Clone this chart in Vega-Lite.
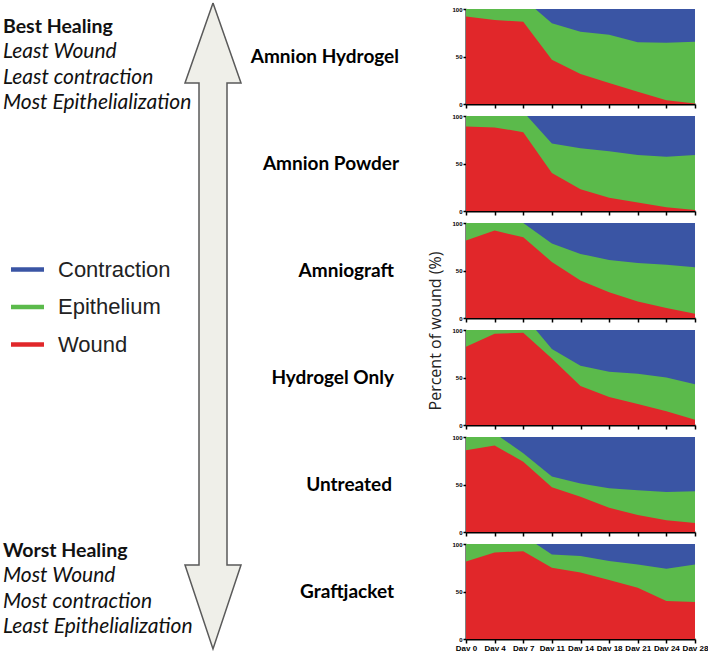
{
  "$schema": "https://vega.github.io/schema/vega-lite/v6.json",
  "padding": 0,
  "background": "white",
  "config": {"view": {"stroke": null}},
  "datasets": {
    "arrow": [
      {"i": 0, "x": 213, "y": 0}, {"i": 1, "x": 241, "y": 80}, {"i": 2, "x": 227, "y": 80},
      {"i": 3, "x": 227, "y": 562}, {"i": 4, "x": 241, "y": 562}, {"i": 5, "x": 213, "y": 646},
      {"i": 6, "x": 185, "y": 562}, {"i": 7, "x": 199, "y": 562}, {"i": 8, "x": 199, "y": 80},
      {"i": 9, "x": 185, "y": 80}, {"i": 10, "x": 213, "y": 0}
    ],
    "healing": [
      {"p": "Amnion Hydrogel", "d": "Day 0", "total": 100, "top": 100, "wound": 92},
      {"p": "Amnion Hydrogel", "d": "Day 4", "total": 100, "top": 100, "wound": 88.5},
      {"p": "Amnion Hydrogel", "d": "Day 7", "total": 100, "top": 111, "wound": 86.5},
      {"p": "Amnion Hydrogel", "d": "Day 11", "total": 100, "top": 85, "wound": 46.5},
      {"p": "Amnion Hydrogel", "d": "Day 14", "total": 100, "top": 76, "wound": 31.5},
      {"p": "Amnion Hydrogel", "d": "Day 18", "total": 100, "top": 73, "wound": 22},
      {"p": "Amnion Hydrogel", "d": "Day 21", "total": 100, "top": 65, "wound": 13},
      {"p": "Amnion Hydrogel", "d": "Day 24", "total": 100, "top": 64.5, "wound": 4},
      {"p": "Amnion Hydrogel", "d": "Day 28", "total": 100, "top": 65.5, "wound": 0.5},
      {"p": "Amnion Powder", "d": "Day 0", "total": 100, "top": 100, "wound": 89},
      {"p": "Amnion Powder", "d": "Day 4", "total": 100, "top": 100, "wound": 88},
      {"p": "Amnion Powder", "d": "Day 7", "total": 100, "top": 104.5, "wound": 83},
      {"p": "Amnion Powder", "d": "Day 11", "total": 100, "top": 71, "wound": 40},
      {"p": "Amnion Powder", "d": "Day 14", "total": 100, "top": 66, "wound": 23},
      {"p": "Amnion Powder", "d": "Day 18", "total": 100, "top": 63, "wound": 14},
      {"p": "Amnion Powder", "d": "Day 21", "total": 100, "top": 59, "wound": 9},
      {"p": "Amnion Powder", "d": "Day 24", "total": 100, "top": 57, "wound": 4},
      {"p": "Amnion Powder", "d": "Day 28", "total": 100, "top": 59, "wound": 1},
      {"p": "Amniograft", "d": "Day 0", "total": 100, "top": 100, "wound": 81.5},
      {"p": "Amniograft", "d": "Day 4", "total": 100, "top": 100, "wound": 92},
      {"p": "Amniograft", "d": "Day 7", "total": 100, "top": 100, "wound": 85},
      {"p": "Amniograft", "d": "Day 11", "total": 100, "top": 78.5, "wound": 59},
      {"p": "Amniograft", "d": "Day 14", "total": 100, "top": 67.5, "wound": 39.5},
      {"p": "Amniograft", "d": "Day 18", "total": 100, "top": 61, "wound": 27},
      {"p": "Amniograft", "d": "Day 21", "total": 100, "top": 58, "wound": 17.5},
      {"p": "Amniograft", "d": "Day 24", "total": 100, "top": 56, "wound": 10.5},
      {"p": "Amniograft", "d": "Day 28", "total": 100, "top": 53.5, "wound": 4.5},
      {"p": "Hydrogel Only", "d": "Day 0", "total": 100, "top": 100, "wound": 82.5},
      {"p": "Hydrogel Only", "d": "Day 4", "total": 100, "top": 100, "wound": 96},
      {"p": "Hydrogel Only", "d": "Day 7", "total": 100, "top": 116, "wound": 97},
      {"p": "Hydrogel Only", "d": "Day 11", "total": 100, "top": 80, "wound": 70},
      {"p": "Hydrogel Only", "d": "Day 14", "total": 100, "top": 62.5, "wound": 41},
      {"p": "Hydrogel Only", "d": "Day 18", "total": 100, "top": 56, "wound": 29.5},
      {"p": "Hydrogel Only", "d": "Day 21", "total": 100, "top": 54, "wound": 22},
      {"p": "Hydrogel Only", "d": "Day 24", "total": 100, "top": 50, "wound": 14.5},
      {"p": "Hydrogel Only", "d": "Day 28", "total": 100, "top": 43, "wound": 5.5},
      {"p": "Untreated", "d": "Day 0", "total": 100, "top": 100, "wound": 86},
      {"p": "Untreated", "d": "Day 4", "total": 100, "top": 104, "wound": 91},
      {"p": "Untreated", "d": "Day 7", "total": 100, "top": 83, "wound": 74},
      {"p": "Untreated", "d": "Day 11", "total": 100, "top": 58.5, "wound": 47},
      {"p": "Untreated", "d": "Day 14", "total": 100, "top": 51, "wound": 37},
      {"p": "Untreated", "d": "Day 18", "total": 100, "top": 46, "wound": 25.5},
      {"p": "Untreated", "d": "Day 21", "total": 100, "top": 44, "wound": 18},
      {"p": "Untreated", "d": "Day 24", "total": 100, "top": 42, "wound": 12.5},
      {"p": "Untreated", "d": "Day 28", "total": 100, "top": 43, "wound": 9.5},
      {"p": "Graftjacket", "d": "Day 0", "total": 100, "top": 100, "wound": 81.5},
      {"p": "Graftjacket", "d": "Day 4", "total": 100, "top": 100, "wound": 91},
      {"p": "Graftjacket", "d": "Day 7", "total": 100, "top": 109, "wound": 92.5},
      {"p": "Graftjacket", "d": "Day 11", "total": 100, "top": 89, "wound": 75},
      {"p": "Graftjacket", "d": "Day 14", "total": 100, "top": 87.5, "wound": 70},
      {"p": "Graftjacket", "d": "Day 18", "total": 100, "top": 82, "wound": 62},
      {"p": "Graftjacket", "d": "Day 21", "total": 100, "top": 78.5, "wound": 54},
      {"p": "Graftjacket", "d": "Day 24", "total": 100, "top": 74, "wound": 40},
      {"p": "Graftjacket", "d": "Day 28", "total": 100, "top": 78.5, "wound": 39}
    ]
  },
  "bounds": "flush",
  "spacing": 26,
  "hconcat": [
    {
      "width": 440,
      "height": 630,
      "encoding": {
        "x": {"type": "quantitative", "scale": {"domain": [0, 440], "nice": false, "zero": false}, "axis": null},
        "y": {"type": "quantitative", "scale": {"domain": [6, 636], "nice": false, "zero": false, "reverse": true}, "axis": null}
      },
      "layer": [
        {
          "data": {"name": "arrow"},
          "mark": {"type": "line", "fill": "#efefe9", "stroke": "#5a5a5a", "strokeWidth": 1.5, "strokeJoin": "miter", "interpolate": "linear"},
          "encoding": {
            "x": {"field": "x", "type": "quantitative", "scale": {"domain": [0, 440], "nice": false, "zero": false}, "axis": null},
            "y": {"field": "y", "type": "quantitative", "scale": {"domain": [6, 636], "nice": false, "zero": false, "reverse": true}, "axis": null},
            "order": {"field": "i", "type": "quantitative"}
          }
        },
        {
          "data": {"values": [{"t": "Best Healing"}]},
          "mark": {"type": "text", "align": "left", "baseline": "alphabetic", "font": "Lato", "fontSize": 19.5, "fontWeight": "bold", "color": "#111"},
          "encoding": {"x": {"datum": 3}, "y": {"datum": 29.5}, "text": {"field": "t"}}
        },
        {
          "data": {"values": [{"t": ["Least Wound", "Least contraction", "Most Epithelialization"]}]},
          "mark": {"type": "text", "align": "left", "baseline": "alphabetic", "font": "Lato", "fontSize": 21, "fontStyle": "italic", "lineHeight": 25.5, "color": "#111"},
          "encoding": {"x": {"datum": 3}, "y": {"datum": 55}, "text": {"field": "t"}}
        },
        {
          "data": {"values": [{"t": "Worst Healing"}]},
          "mark": {"type": "text", "align": "left", "baseline": "alphabetic", "font": "Lato", "fontSize": 19.5, "fontWeight": "bold", "color": "#111"},
          "encoding": {"x": {"datum": 3}, "y": {"datum": 554}, "text": {"field": "t"}}
        },
        {
          "data": {"values": [{"t": ["Most Wound", "Most contraction", "Least Epithelialization"]}]},
          "mark": {"type": "text", "align": "left", "baseline": "alphabetic", "font": "Lato", "fontSize": 21, "fontStyle": "italic", "lineHeight": 25.5, "color": "#111"},
          "encoding": {"x": {"datum": 3}, "y": {"datum": 579}, "text": {"field": "t"}}
        },
        {
          "data": {"values": [{"t": "Amnion Hydrogel"}]},
          "mark": {"type": "text", "align": "right", "baseline": "middle", "font": "Lato", "fontSize": 19, "fontWeight": "bold", "color": "#000"},
          "encoding": {"x": {"datum": 399}, "y": {"datum": 53.5}, "text": {"field": "t"}}
        },
        {
          "data": {"values": [{"t": "Amnion Powder"}]},
          "mark": {"type": "text", "align": "right", "baseline": "middle", "font": "Lato", "fontSize": 19, "fontWeight": "bold", "color": "#000"},
          "encoding": {"x": {"datum": 399}, "y": {"datum": 160.5}, "text": {"field": "t"}}
        },
        {
          "data": {"values": [{"t": "Amniograft"}]},
          "mark": {"type": "text", "align": "right", "baseline": "middle", "font": "Lato", "fontSize": 19, "fontWeight": "bold", "color": "#000"},
          "encoding": {"x": {"datum": 394}, "y": {"datum": 267.5}, "text": {"field": "t"}}
        },
        {
          "data": {"values": [{"t": "Hydrogel Only"}]},
          "mark": {"type": "text", "align": "right", "baseline": "middle", "font": "Lato", "fontSize": 19, "fontWeight": "bold", "color": "#000"},
          "encoding": {"x": {"datum": 394}, "y": {"datum": 374.5}, "text": {"field": "t"}}
        },
        {
          "data": {"values": [{"t": "Untreated"}]},
          "mark": {"type": "text", "align": "right", "baseline": "middle", "font": "Lato", "fontSize": 19, "fontWeight": "bold", "color": "#000"},
          "encoding": {"x": {"datum": 392}, "y": {"datum": 481.5}, "text": {"field": "t"}}
        },
        {
          "data": {"values": [{"t": "Graftjacket"}]},
          "mark": {"type": "text", "align": "right", "baseline": "middle", "font": "Lato", "fontSize": 19, "fontWeight": "bold", "color": "#000"},
          "encoding": {"x": {"datum": 394}, "y": {"datum": 588.5}, "text": {"field": "t"}}
        },
        {
          "data": {"values": [{"t": "Percent of wound (%)"}]},
          "mark": {"type": "text", "align": "center", "baseline": "middle", "angle": 270, "font": "Open Sans", "fontSize": 16, "color": "#222"},
          "encoding": {"x": {"datum": 436}, "y": {"datum": 328}, "text": {"field": "t"}}
        }
      ]
    },
    {
      "data": {"name": "healing"},
      "bounds": "flush",
      "spacing": 12,
      "vconcat": [
        {
          "width": 229, "height": 95,
          "transform": [{"filter": "datum.p === 'Amnion Hydrogel'"}],
          "encoding": {
            "x": {"field": "d", "type": "ordinal", "sort": null, "scale": {"type": "point", "padding": 0, "domain": ["Day 0", "Day 4", "Day 7", "Day 11", "Day 14", "Day 18", "Day 21", "Day 24", "Day 28"]},
              "axis": {"title": null, "labels": false, "domainColor": "#000", "domainWidth": 2, "tickColor": "#000", "tickWidth": 1.5, "tickSize": 4, "grid": false}}
          },
          "layer": [
            {"mark": {"type": "area", "clip": true, "opacity": 1},
             "encoding": {
               "y": {"field": "total", "type": "quantitative", "stack": null, "scale": {"domain": [0, 100], "nice": false},
                 "axis": {"title": null, "values": [0, 50, 100], "labelFont": "Liberation Sans", "labelFontWeight": "bold", "labelFontSize": 6, "labelColor": "#000", "labelPadding": 1, "labelFlush": false, "domainColor": "#000", "domainWidth": 2, "tickColor": "#000", "tickWidth": 1.5, "tickSize": 3, "grid": false}},
               "color": {"datum": "Contraction", "type": "nominal",
                 "scale": {"domain": ["Contraction", "Epithelium", "Wound"], "range": ["#3a55a4", "#5bba4b", "#e1272a"]},
                 "legend": {"title": null, "orient": "none", "legendX": 11, "legendY": 244, "padding": 0, "symbolType": "M-1,-0.13H1V0.13H-1Z", "symbolSize": 1089, "symbolStrokeWidth": 0, "symbolOpacity": 1, "labelFont": "Liberation Sans", "labelFontSize": 22, "labelColor": "#222", "labelOffset": 14, "rowPadding": 9.5}}
             }},
            {"mark": {"type": "area", "clip": true, "opacity": 1},
             "encoding": {"y": {"field": "top", "type": "quantitative", "stack": null}, "color": {"datum": "Epithelium", "type": "nominal"}}},
            {"mark": {"type": "area", "clip": true, "opacity": 1},
             "encoding": {"y": {"field": "wound", "type": "quantitative", "stack": null}, "color": {"datum": "Wound", "type": "nominal"}}}
          ]
        },
        {
          "width": 229, "height": 95,
          "transform": [{"filter": "datum.p === 'Amnion Powder'"}],
          "encoding": {
            "x": {"field": "d", "type": "ordinal", "sort": null, "scale": {"type": "point", "padding": 0, "domain": ["Day 0", "Day 4", "Day 7", "Day 11", "Day 14", "Day 18", "Day 21", "Day 24", "Day 28"]},
              "axis": {"title": null, "labels": false, "domainColor": "#000", "domainWidth": 2, "tickColor": "#000", "tickWidth": 1.5, "tickSize": 4, "grid": false}}
          },
          "layer": [
            {"mark": {"type": "area", "clip": true, "opacity": 1},
             "encoding": {
               "y": {"field": "total", "type": "quantitative", "stack": null, "scale": {"domain": [0, 100], "nice": false},
                 "axis": {"title": null, "values": [0, 50, 100], "labelFont": "Liberation Sans", "labelFontWeight": "bold", "labelFontSize": 6, "labelColor": "#000", "labelPadding": 1, "labelFlush": false, "domainColor": "#000", "domainWidth": 2, "tickColor": "#000", "tickWidth": 1.5, "tickSize": 3, "grid": false}},
               "color": {"datum": "Contraction", "type": "nominal"}
             }},
            {"mark": {"type": "area", "clip": true, "opacity": 1},
             "encoding": {"y": {"field": "top", "type": "quantitative", "stack": null}, "color": {"datum": "Epithelium", "type": "nominal"}}},
            {"mark": {"type": "area", "clip": true, "opacity": 1},
             "encoding": {"y": {"field": "wound", "type": "quantitative", "stack": null}, "color": {"datum": "Wound", "type": "nominal"}}}
          ]
        },
        {
          "width": 229, "height": 95,
          "transform": [{"filter": "datum.p === 'Amniograft'"}],
          "encoding": {
            "x": {"field": "d", "type": "ordinal", "sort": null, "scale": {"type": "point", "padding": 0, "domain": ["Day 0", "Day 4", "Day 7", "Day 11", "Day 14", "Day 18", "Day 21", "Day 24", "Day 28"]},
              "axis": {"title": null, "labels": false, "domainColor": "#000", "domainWidth": 2, "tickColor": "#000", "tickWidth": 1.5, "tickSize": 4, "grid": false}}
          },
          "layer": [
            {"mark": {"type": "area", "clip": true, "opacity": 1},
             "encoding": {
               "y": {"field": "total", "type": "quantitative", "stack": null, "scale": {"domain": [0, 100], "nice": false},
                 "axis": {"title": null, "values": [0, 50, 100], "labelFont": "Liberation Sans", "labelFontWeight": "bold", "labelFontSize": 6, "labelColor": "#000", "labelPadding": 1, "labelFlush": false, "domainColor": "#000", "domainWidth": 2, "tickColor": "#000", "tickWidth": 1.5, "tickSize": 3, "grid": false}},
               "color": {"datum": "Contraction", "type": "nominal"}
             }},
            {"mark": {"type": "area", "clip": true, "opacity": 1},
             "encoding": {"y": {"field": "top", "type": "quantitative", "stack": null}, "color": {"datum": "Epithelium", "type": "nominal"}}},
            {"mark": {"type": "area", "clip": true, "opacity": 1},
             "encoding": {"y": {"field": "wound", "type": "quantitative", "stack": null}, "color": {"datum": "Wound", "type": "nominal"}}}
          ]
        },
        {
          "width": 229, "height": 95,
          "transform": [{"filter": "datum.p === 'Hydrogel Only'"}],
          "encoding": {
            "x": {"field": "d", "type": "ordinal", "sort": null, "scale": {"type": "point", "padding": 0, "domain": ["Day 0", "Day 4", "Day 7", "Day 11", "Day 14", "Day 18", "Day 21", "Day 24", "Day 28"]},
              "axis": {"title": null, "labels": false, "domainColor": "#000", "domainWidth": 2, "tickColor": "#000", "tickWidth": 1.5, "tickSize": 4, "grid": false}}
          },
          "layer": [
            {"mark": {"type": "area", "clip": true, "opacity": 1},
             "encoding": {
               "y": {"field": "total", "type": "quantitative", "stack": null, "scale": {"domain": [0, 100], "nice": false},
                 "axis": {"title": null, "values": [0, 50, 100], "labelFont": "Liberation Sans", "labelFontWeight": "bold", "labelFontSize": 6, "labelColor": "#000", "labelPadding": 1, "labelFlush": false, "domainColor": "#000", "domainWidth": 2, "tickColor": "#000", "tickWidth": 1.5, "tickSize": 3, "grid": false}},
               "color": {"datum": "Contraction", "type": "nominal"}
             }},
            {"mark": {"type": "area", "clip": true, "opacity": 1},
             "encoding": {"y": {"field": "top", "type": "quantitative", "stack": null}, "color": {"datum": "Epithelium", "type": "nominal"}}},
            {"mark": {"type": "area", "clip": true, "opacity": 1},
             "encoding": {"y": {"field": "wound", "type": "quantitative", "stack": null}, "color": {"datum": "Wound", "type": "nominal"}}}
          ]
        },
        {
          "width": 229, "height": 95,
          "transform": [{"filter": "datum.p === 'Untreated'"}],
          "encoding": {
            "x": {"field": "d", "type": "ordinal", "sort": null, "scale": {"type": "point", "padding": 0, "domain": ["Day 0", "Day 4", "Day 7", "Day 11", "Day 14", "Day 18", "Day 21", "Day 24", "Day 28"]},
              "axis": {"title": null, "labels": false, "domainColor": "#000", "domainWidth": 2, "tickColor": "#000", "tickWidth": 1.5, "tickSize": 4, "grid": false}}
          },
          "layer": [
            {"mark": {"type": "area", "clip": true, "opacity": 1},
             "encoding": {
               "y": {"field": "total", "type": "quantitative", "stack": null, "scale": {"domain": [0, 100], "nice": false},
                 "axis": {"title": null, "values": [0, 50, 100], "labelFont": "Liberation Sans", "labelFontWeight": "bold", "labelFontSize": 6, "labelColor": "#000", "labelPadding": 1, "labelFlush": false, "domainColor": "#000", "domainWidth": 2, "tickColor": "#000", "tickWidth": 1.5, "tickSize": 3, "grid": false}},
               "color": {"datum": "Contraction", "type": "nominal"}
             }},
            {"mark": {"type": "area", "clip": true, "opacity": 1},
             "encoding": {"y": {"field": "top", "type": "quantitative", "stack": null}, "color": {"datum": "Epithelium", "type": "nominal"}}},
            {"mark": {"type": "area", "clip": true, "opacity": 1},
             "encoding": {"y": {"field": "wound", "type": "quantitative", "stack": null}, "color": {"datum": "Wound", "type": "nominal"}}}
          ]
        },
        {
          "width": 229, "height": 95,
          "transform": [{"filter": "datum.p === 'Graftjacket'"}],
          "encoding": {
            "x": {"field": "d", "type": "ordinal", "sort": null, "scale": {"type": "point", "padding": 0, "domain": ["Day 0", "Day 4", "Day 7", "Day 11", "Day 14", "Day 18", "Day 21", "Day 24", "Day 28"]},
              "axis": {"title": null, "labels": true, "labelAngle": 0, "labelFont": "Liberation Sans", "labelFontWeight": "bold", "labelFontSize": 8, "labelColor": "#000", "labelPadding": 1, "labelFlush": false, "labelOverlap": false, "domainColor": "#000", "domainWidth": 2, "tickColor": "#000", "tickWidth": 1.5, "tickSize": 4, "grid": false}}
          },
          "layer": [
            {"mark": {"type": "area", "clip": true, "opacity": 1},
             "encoding": {
               "y": {"field": "total", "type": "quantitative", "stack": null, "scale": {"domain": [0, 100], "nice": false},
                 "axis": {"title": null, "values": [0, 50, 100], "labelFont": "Liberation Sans", "labelFontWeight": "bold", "labelFontSize": 6, "labelColor": "#000", "labelPadding": 1, "labelFlush": false, "domainColor": "#000", "domainWidth": 2, "tickColor": "#000", "tickWidth": 1.5, "tickSize": 3, "grid": false}},
               "color": {"datum": "Contraction", "type": "nominal"}
             }},
            {"mark": {"type": "area", "clip": true, "opacity": 1},
             "encoding": {"y": {"field": "top", "type": "quantitative", "stack": null}, "color": {"datum": "Epithelium", "type": "nominal"}}},
            {"mark": {"type": "area", "clip": true, "opacity": 1},
             "encoding": {"y": {"field": "wound", "type": "quantitative", "stack": null}, "color": {"datum": "Wound", "type": "nominal"}}}
          ]
        }
      ]
    }
  ]
}
